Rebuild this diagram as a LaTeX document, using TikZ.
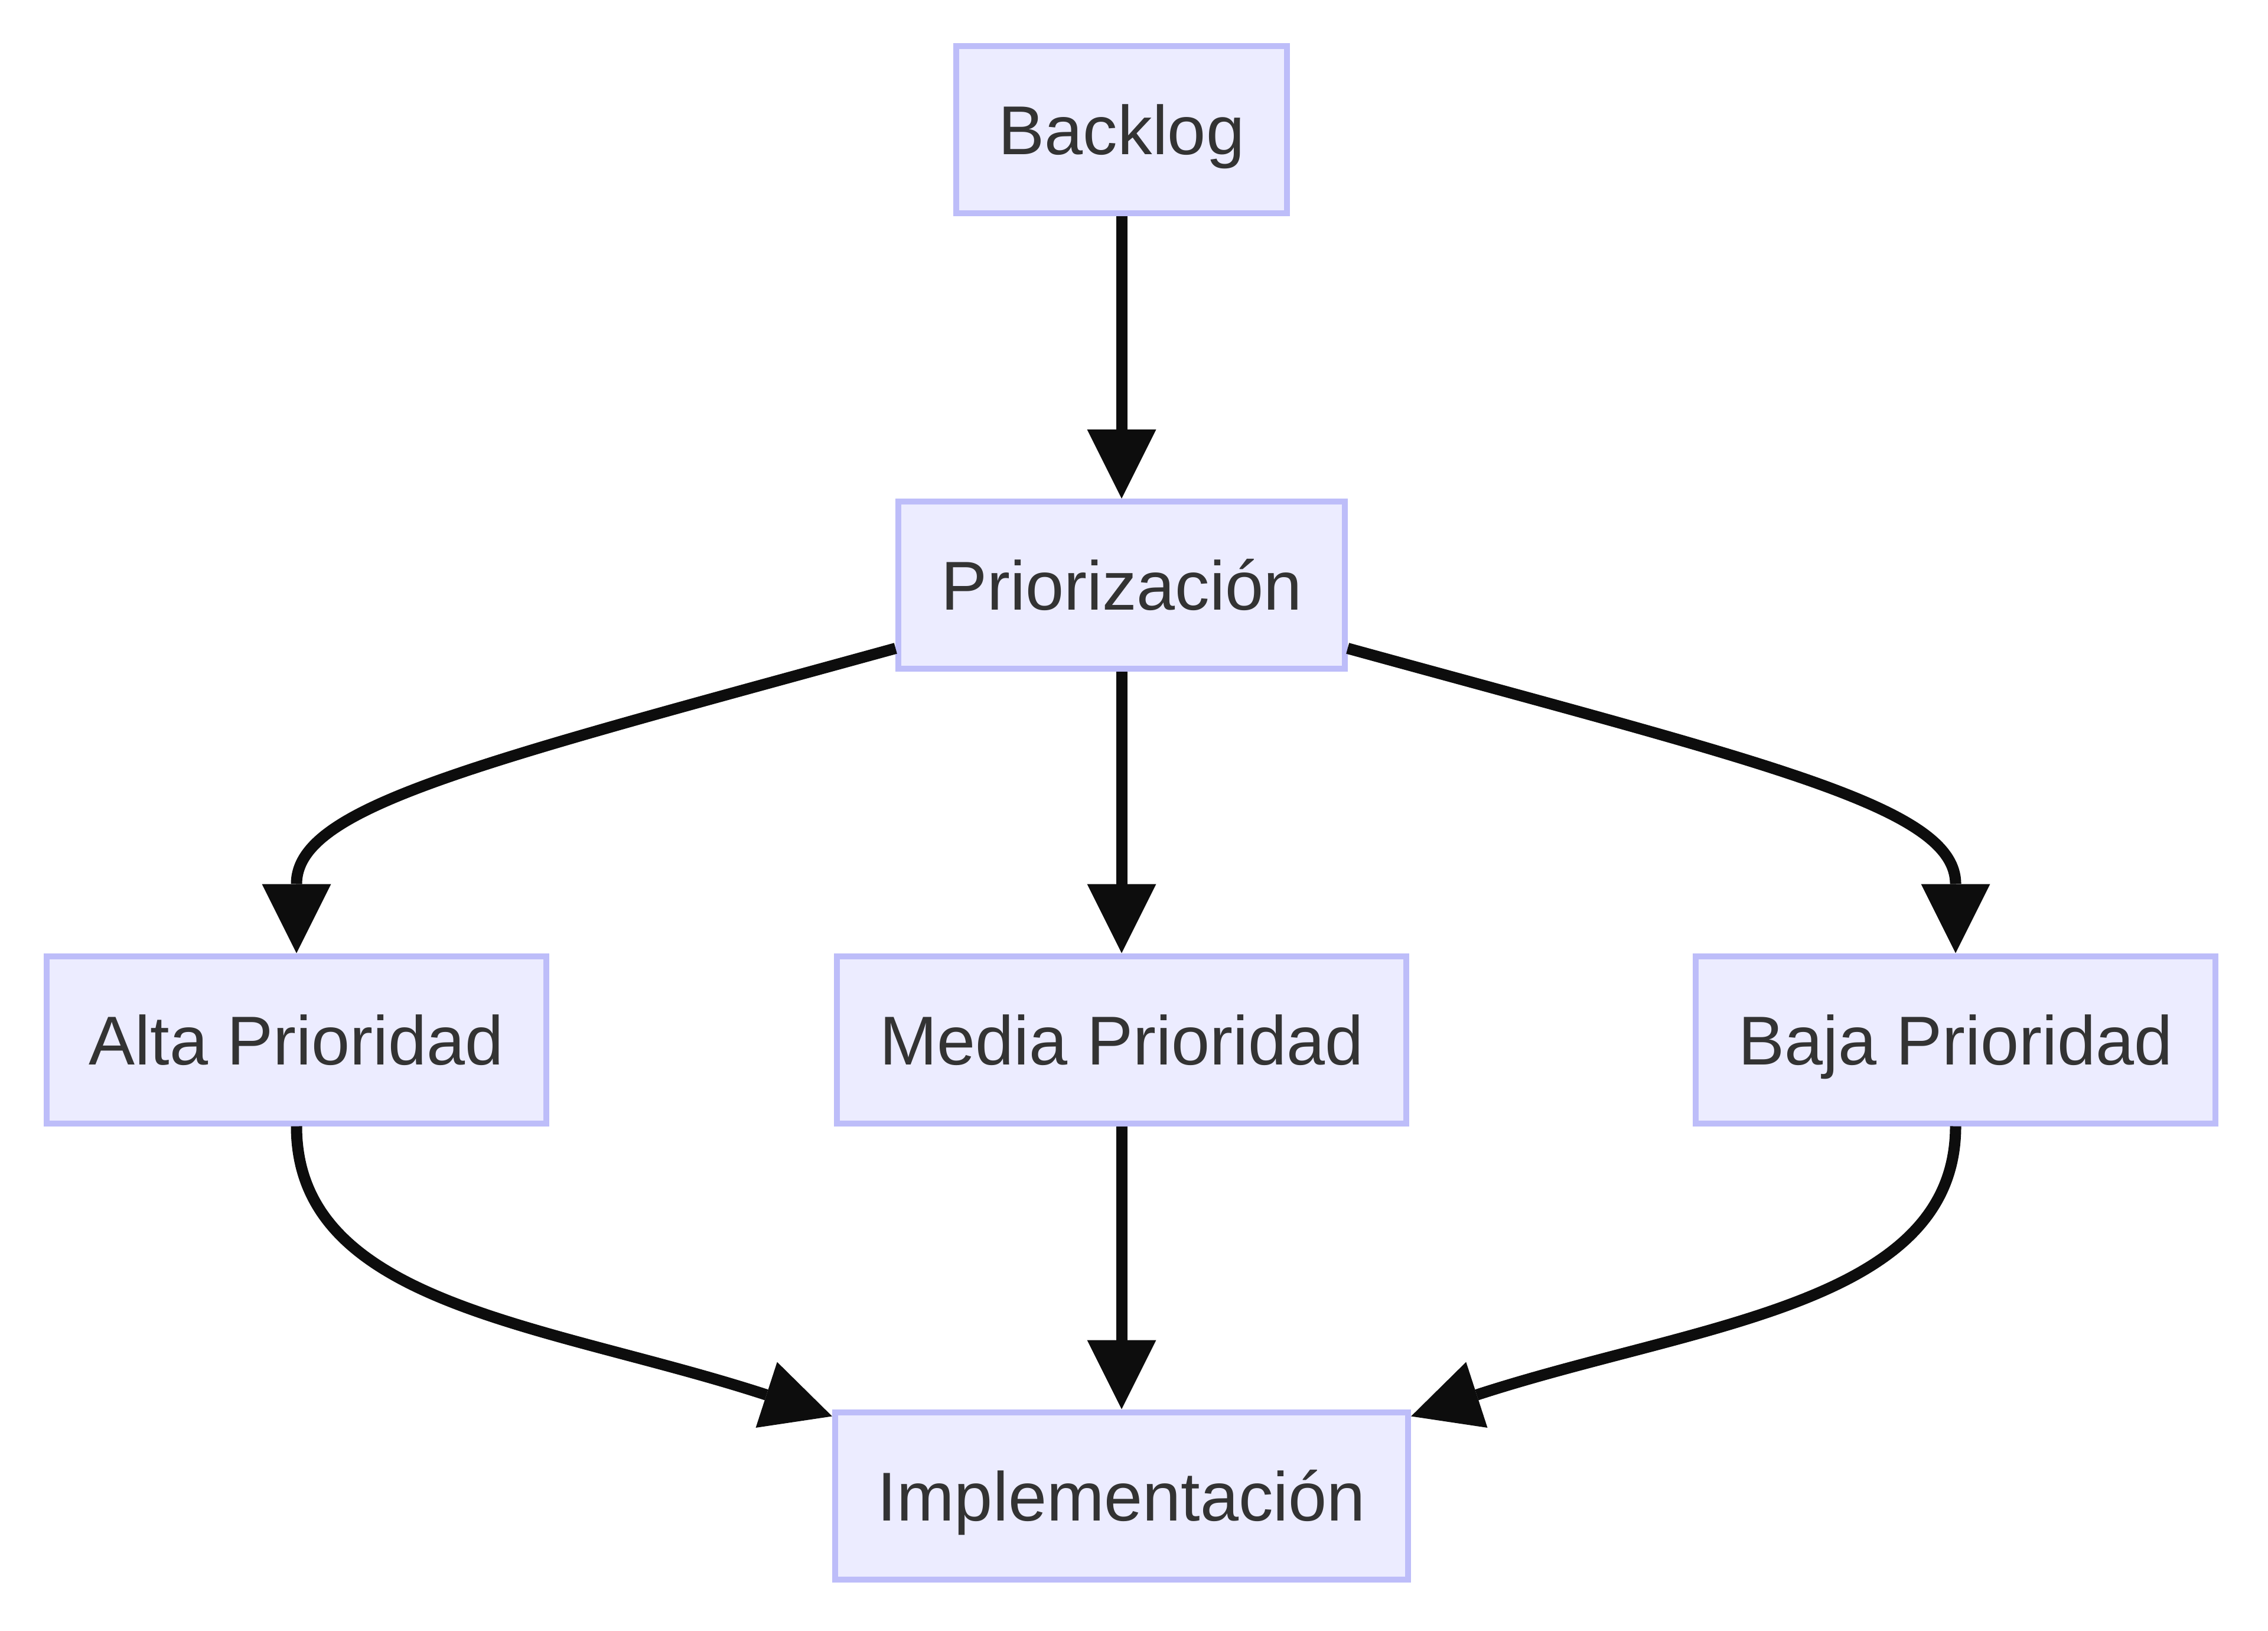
\documentclass[tikz,border=0pt]{standalone}
\usepackage{fontspec}
\setmainfont{Liberation Sans}
\usetikzlibrary{arrows.meta,calc}
\definecolor{nodefill}{HTML}{ECECFF}
\definecolor{nodeline}{HTML}{BDBDF9}
\definecolor{txt}{HTML}{333333}
\definecolor{edgecol}{HTML}{0D0D0D}
\tikzset{
  box/.style={draw=nodeline, fill=nodefill, line width=0.1cm, rectangle,
    minimum height=2.83cm, inner xsep=0.72cm, inner ysep=0pt,
    text height=0.84cm, text depth=0cm, text=txt,
    font=\fontsize{33.3pt}{40pt}\selectfont},
  edge/.style={draw=edgecol, line width=0.19cm,
    -{Triangle[length=1.17cm,width=1.17cm,line width=0pt]}}
}
\begin{document}
\begin{tikzpicture}
\useasboundingbox (0,0) rectangle (38.4,-27.6);
\node[box] (backlog) at (18.99,-2.195) {Backlog};
\node[box] (prio) at (18.99,-9.905) {Priorización};
\node[box] (alta) at (5.02,-17.60) {Alta Prioridad};
\node[box] (media) at (18.99,-17.60) {Media Prioridad};
\node[box] (baja) at (33.11,-17.60) {Baja Prioridad};
\node[box] (impl) at (18.99,-25.32) {Implementación};

\draw[edge] (backlog) -- (prio);
\draw[edge] (prio) -- (media);
\draw[edge] (media) -- (impl);
\draw[edge] ($(prio.west)+(0,-1.07)$) .. controls +(-7.13,-1.96) and +(0,2.48) .. (alta.north);
\draw[edge] ($(prio.east)+(0,-1.07)$) .. controls +(7.13,-1.96) and +(0,2.48) .. (baja.north);
\draw[edge] (alta.south) .. controls +(0,-3.04) and +(-4.82,1.57) .. ($(impl.north west)+(0,-0.12)$);
\draw[edge] (baja.south) .. controls +(0,-3.04) and +(4.82,1.57) .. ($(impl.north east)+(0,-0.12)$);
\end{tikzpicture}
\end{document}
